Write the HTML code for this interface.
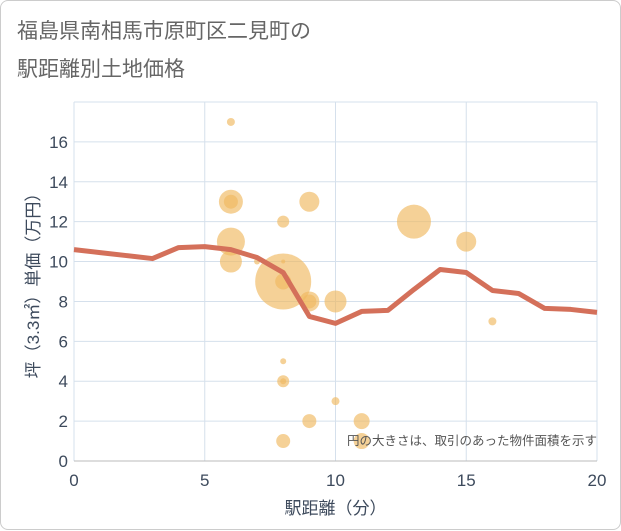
<!DOCTYPE html>
<html><head><meta charset="utf-8"><style>
body{margin:0;background:#fff}
#c{position:relative;width:621px;height:530px;box-sizing:border-box;border:1px solid #ccc;border-radius:8px;background:#fff;font-family:"Liberation Sans","Noto Sans CJK JP",sans-serif}
</style></head><body>
<div id="c">
<svg id="s" width="621" height="530" style="position:absolute;left:0;top:0">
<text x="16" y="37" font-size="21" fill="#666" font-family="Liberation Sans,Noto Sans CJK JP,sans-serif">福島県南相馬市原町区二見町の</text>
<text x="16" y="75" font-size="21" fill="#666" font-family="Liberation Sans,Noto Sans CJK JP,sans-serif">駅距離別土地価格</text>
</svg>
</div>
<script>
const lineX=[0,1,2,3,4,5,6,7,8,9,10,11,12,13,14,15,16,17,18,19,20];
const lineY=[10.6,10.45,10.3,10.15,10.7,10.75,10.6,10.2,9.45,7.25,6.9,7.5,7.55,8.6,9.6,9.45,8.55,8.4,7.65,7.6,7.45];
const bubX=[6,6,6,6,6,7,8,8,8,8,9,9,9,10,8,8,8,10,9,11,11,8,13,15,16];
const bubY=[17,13,13,11,10,10,12,9,9,10,13,8,8,8,5,4,4,3,2,2,1,1,12,11,7];
const bubR=[4,12,7,14,11,3,6,28,8,2,10,10,7,11,3,6,3,4,7,8,8,7,17,10,4];
const xTicks=[0,5,10,15,20];
const yTicks=[0,2,4,6,8,10,12,14,16];
const X0=73,X1=596,Y0=460,Yt=101;
const sx=v=>X0+(X1-X0)*v/20;
const sy=v=>Y0-(Y0-Yt)*v/18;
const s=document.getElementById('s');
const NS='http://www.w3.org/2000/svg';
function mk(t,a){const e=document.createElementNS(NS,t);for(const k in a)e.setAttribute(k,a[k]);s.appendChild(e);return e;}
for(let v=0;v<=18;v+=2){const l=mk('line',{x1:X0,x2:X1,y1:sy(v),y2:sy(v),stroke:'#d5e0ec','stroke-width':1});

}
for(let v=0;v<=20;v+=5){const l=mk('line',{x1:sx(v),x2:sx(v),y1:Yt,y2:Y0,stroke:'#d5e0ec','stroke-width':1});

}
const ax=mk('line',{x1:X0,x2:X1,y1:Y0,y2:Y0,stroke:'#bbb'});


yTicks.forEach(v=>{const t=mk('text',{x:X0-6,y:sy(v)+6,'text-anchor':'end','font-size':17,fill:'#3d4a5c'});t.textContent=v;

});
xTicks.forEach(v=>{const t=mk('text',{x:sx(v),y:Y0+25,'text-anchor':'middle','font-size':17,fill:'#3d4a5c'});t.textContent=v;

});
bubX.forEach((x,i)=>{const c=mk('circle',{cx:sx(x),cy:sy(bubY[i]),r:bubR[i],fill:'#f0b860','fill-opacity':0.65});

});
const p=mk('polyline',{points:lineX.map((x,i)=>sx(x)+','+sy(lineY[i])).join(' '),fill:'none',stroke:'#d4705a','stroke-width':5,'stroke-linejoin':'round'});


const n=mk('text',{x:596,y:444,'text-anchor':'end','font-size':12.5,fill:'#555'});n.textContent='円の大きさは、取引のあった物件面積を示す';


const xt=mk('text',{x:(X0+X1)/2,y:513,'text-anchor':'middle','font-size':17,fill:'#3d4a5c'});xt.textContent='駅距離（分）';


const yt=mk('text',{x:0,y:0,'text-anchor':'middle','font-size':17,fill:'#3d4a5c',transform:'translate(38,'+((Yt+Y0)/2)+') rotate(-90)'});yt.textContent='坪（3.3㎡）単価（万円）';


</script>
</body></html>
